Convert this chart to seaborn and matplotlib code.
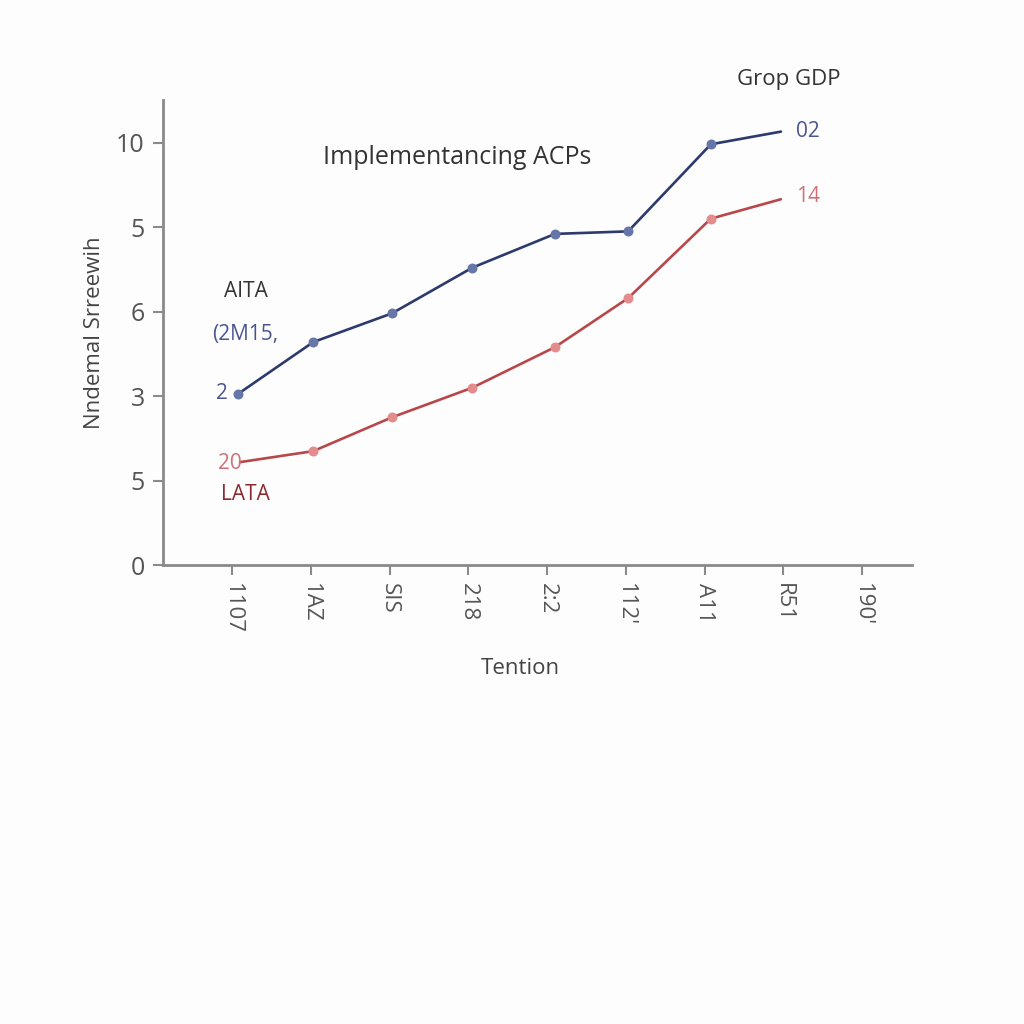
import pandas as pd
import matplotlib.pyplot as plt
import seaborn as sns

sns.set_theme(style="white")
plt.rcParams['font.family'] = ['Open Sans', 'DejaVu Sans']

# data
x_labels = ["1107", "1AZ", "SIS", "218", "2:2", "112'", "A11", "R51", "190'"]
y_ticklabels = ["0", "5", "3", "6", "5", "10"]
blue_x = [0.08, 1.03, 2.03, 3.05, 4.1, 5.03, 6.08, 6.97]
blue_y = [2.03, 2.64, 2.98, 3.52, 3.92, 3.95, 4.98, 5.13]
red_x = [0.1, 1.03, 2.03, 3.05, 4.1, 5.03, 6.08, 6.97]
red_y = [1.22, 1.35, 1.75, 2.10, 2.58, 3.16, 4.10, 4.33]

navy = '#2c3a6e'
navy_pt = '#6676a8'
red = '#b8474a'
red_pt = '#e38c8e'
grey = '#8a8a8a'

fig = plt.figure(figsize=(10.24, 10.24), dpi=100)
fig.patch.set_facecolor('#fdfdfd')
ax = fig.add_axes([0.159, 0.448, 0.732, 0.454])
ax.set_facecolor('#fdfdfd')

df_b = pd.DataFrame({'x': blue_x, 'y': blue_y})
df_r = pd.DataFrame({'x': red_x, 'y': red_y})
sns.lineplot(data=df_b, x='x', y='y', color=navy, linewidth=1.9, ax=ax)
sns.lineplot(data=df_r, x='x', y='y', color=red, linewidth=1.9, ax=ax)
# markers (line ends without dots as in the reference)
ax.scatter(df_b['x'][:-1], df_b['y'][:-1], s=38, color=navy_pt, zorder=3)
ax.scatter(df_r['x'][1:-1], df_r['y'][1:-1], s=38, color=red_pt, zorder=3)

ax.set_xlim(-0.88, 8.64)
ax.set_ylim(0, 5.5)
ax.set_xticks(range(len(x_labels)))
ax.set_xticklabels(x_labels, rotation=270, fontsize=16, color='#555555')
ax.set_yticks(range(len(y_ticklabels)))
ax.set_yticklabels(y_ticklabels, fontsize=18, color='#555555')
ax.tick_params(axis='both', which='both', length=7, width=1.5, color=grey,
               bottom=True, left=True, pad=6)
ax.tick_params(axis='x', pad=6)

for s in ['top', 'right']:
    ax.spines[s].set_visible(False)
for s in ['left', 'bottom']:
    ax.spines[s].set_color(grey)
    ax.spines[s].set_linewidth(2)

ax.set_xlabel('Tention', fontsize=16, color='#444444', labelpad=20)
ax.xaxis.set_label_coords(0.477, -0.2)
ax.set_ylabel('Nndemal Srreewih', fontsize=16, color='#444444', labelpad=8)

# annotations
fig.text(0.446, 0.846, 'Implementancing ACPs', ha='center', va='center',
         fontsize=18, color='#333333')
fig.text(0.77, 0.922, 'Grop GDP', ha='center', va='center', fontsize=16, color='#333333')
fig.text(0.24, 0.715, 'AITA', ha='center', va='center', fontsize=15, color='#333333')
fig.text(0.239, 0.673, '(2M15,', ha='center', va='center', fontsize=15, color='#4a5590')
fig.text(0.217, 0.616, '2', ha='center', va='center', fontsize=15, color='#4a5590')
fig.text(0.224, 0.547, '20', ha='center', va='center', fontsize=15, color='#d07078')
fig.text(0.24, 0.517, 'LATA', ha='center', va='center', fontsize=15, color='#8a2a30')
fig.text(0.777, 0.872, '02', ha='left', va='center', fontsize=15, color='#4a5590')
fig.text(0.777, 0.808, '14', ha='left', va='center', fontsize=15, color='#d07078')

fig.savefig('out.png', dpi=100, facecolor=fig.get_facecolor())
